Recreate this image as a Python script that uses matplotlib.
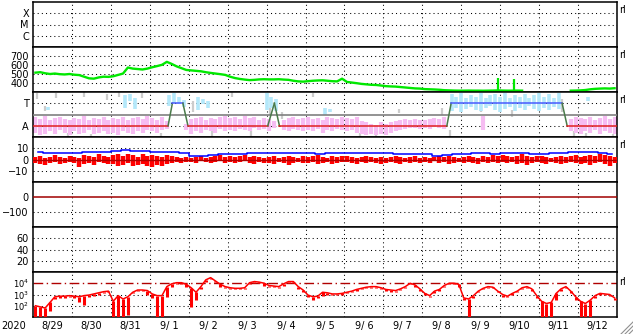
import numpy as np
import matplotlib
matplotlib.use('Agg')
import matplotlib.pyplot as plt
from matplotlib.lines import Line2D

nan = np.nan

# time axis: days since 8/29 00:00, 3-hour bins
date_labels = ['8/29', '8/30', '8/31', '9/ 1', '9/ 2', '9/ 3', '9/ 4', '9/ 5',
               '9/ 6', '9/ 7', '9/ 8', '9/ 9', '9/10', '9/11', '9/12']

# solar wind speed (km/s), 3-hour bins
speed = [515, 520, 508, 500, 505, 498, 495, 500,
         492, 488, 470, 452, 448, 462, 470, 468,
         475, 490, 505, 572, 560, 555, 550, 560,
         575, 588, 602, 635, 612, 585, 565, 545,
         540, 535, 530, 520, 512, 505, 498, 490,
         470, 455, 445, 438, 432, 435, 440, 442,
         440, 440, 442, 438, 435, 425, 418, 415,
         420, 425, 428, 430, 425, 420, 418, 448,
         412, 405, 398, 390, 385, 380, 378, 372,
         365, 362, 360, 355, 350, 345, 340, 338,
         332, 330, 328, 325, 320, 318, 316, 315,
         315, 316, 315, 315, 314, 315, 316, 318,
         316, 315, 315, 316, 315, nan, nan, nan,
         nan, nan, nan, nan, nan, nan, 315, 316,
         318, 322, 330, 335, 338, 340, 338, 342]
spike_days = [11.94, 12.35]
spike_tops = [459, 444]
spike_base = 315

# IMF sector: T / A levels
sector_days = [0, 3.47, 3.58, 3.85, 3.98, 6.03, 6.2, 6.33, 10.63, 10.74, 13.59, 13.72, 15]
sector_vals = ['A', 'A', 'T', 'T', 'A', 'A', 'T', 'A', 'A', 'T', 'T', 'A', 'A']

# IMF angle spread (panel units, A=1, T=3), 3-hour bins
pink_lo = [0.4, 0.2, 0.3, 0.5, 0.3, 0.6, 0.4, 0.2,
           0.5, 0.3, 0.4, 0.6, 0.3, 0.4, 0.5, 0.3,
           0.4, 0.2, 0.5, 0.4, 0.3, 0.5, 0.4, 0.6,
           0.5, 0.4, 0.6, 0.7, nan, nan, nan, 0.6,
           0.3, 0.5, 0.4, 0.6, 0.5, 0.4, 0.7, 0.5,
           0.6, 0.5, 0.7, 0.6, 0.5, 0.8, 0.6, 0.7,
           0.5, 0.8, nan, 0.6, 0.5, 0.7, 0.6, 0.5,
           0.6, 0.5, 0.7, 0.4, 0.6, 0.5, 0.7, 0.6,
           0.5, 0.6, 0.4, 0.3, 0.2, 0.3, 0.2, 0.3,
           0.2, 0.4, 0.5, 0.6, 0.7, 0.8, 0.8, 0.7,
           0.8, 0.7, 0.9, 0.8, 0.7, nan, nan, nan,
           nan, nan, nan, nan, 0.6, nan, nan, nan,
           nan, nan, nan, nan, nan, nan, nan, nan,
           nan, nan, nan, nan, nan, nan, 0.5, 0.4,
           0.3, 0.5, 0.4, 0.6, 0.3, 0.5, 0.4, 0.3]
pink_hi = [1.8, 1.6, 1.9, 1.5, 1.7, 1.8, 1.6, 1.5,
           1.7, 1.6, 1.9, 1.5, 1.7, 1.6, 1.8, 1.5,
           1.7, 1.6, 1.8, 1.5, 1.7, 1.8, 1.6, 1.9,
           1.7, 1.5, 1.8, 1.4, nan, nan, nan, 1.2,
           1.6, 1.7, 1.8, 1.5, 1.7, 1.6, 1.8, 1.9,
           1.7, 1.8, 1.6, 1.9, 1.7, 1.8, 1.5, 1.7,
           1.6, 1.4, nan, 1.5, 1.7, 1.8, 1.6, 1.7,
           1.8, 1.6, 1.7, 1.5, 1.8, 1.7, 1.6, 1.8,
           1.7, 1.6, 1.8, 1.4, 1.3, 1.2, 1.1, 1.3,
           1.2, 1.3, 1.4, 1.5, 1.6, 1.5, 1.6, 1.5,
           1.5, 1.6, 1.7, 1.6, 1.8, nan, nan, nan,
           nan, nan, nan, nan, 1.9, nan, nan, nan,
           nan, nan, nan, nan, nan, nan, nan, nan,
           nan, nan, nan, nan, nan, nan, 1.6, 1.8,
           1.7, 1.6, 1.8, 1.5, 1.7, 1.9, 1.6, 1.8]

cyan_days = [0.375, 2.375, 2.5, 2.625, 3.5, 3.625, 3.75, 3.875, 4.25, 4.375, 4.5,
             6.0, 6.125, 6.25, 7.5, 7.625,
             10.75, 10.875, 11.0, 11.125, 11.25, 11.375, 11.5, 11.625, 11.75, 11.875,
             12.0, 12.125, 12.25, 12.375, 12.5, 12.625, 12.75, 12.875,
             13.0, 13.125, 13.25, 13.375, 13.5, 14.25]
cyan_lo = [2.4, 2.6, 3.2, 2.5, 2.8, 3.0, 2.9, 2.7, 2.4, 2.9, 2.6,
           2.4, 2.6, 2.3, 2.0, 2.2,
           2.3, 2.6, 2.2, 2.5, 2.7, 2.4, 2.3, 2.6, 2.8, 2.4,
           2.2, 2.5, 2.7, 2.3, 2.6, 2.4, 2.8, 2.5,
           2.3, 2.6, 2.4, 2.7, 2.5, 3.2]
cyan_hi = [2.7, 3.7, 3.8, 3.5, 3.7, 3.9, 3.6, 3.3, 3.6, 3.4, 3.2,
           3.9, 3.6, 3.4, 2.6, 2.5,
           3.8, 3.6, 3.9, 3.5, 3.7, 3.6, 3.9, 3.5, 3.7, 3.8,
           3.6, 3.9, 3.5, 3.7, 3.6, 3.8, 3.5, 3.7,
           3.9, 3.6, 3.8, 3.5, 3.9, 3.6]

gray_days = [0.1, 0.3, 0.6, 0.9, 1.3, 1.5, 1.9, 2.2, 2.8, 3.3, 4.1, 4.6, 5.1, 5.6,
             6.1, 6.4, 7.2, 8.4, 8.8, 9.4, 10.5, 10.7, 11.5, 12.3, 13.6, 13.9, 14.2, 14.9]
gray_lo = [3.4, 2.3, 3.5, 0.0, 3.6, 0.0, 3.3, 3.6, 3.5, 0.0, 2.2, 0.0, 3.6, 0.1,
           2.0, 1.6, 3.6, 0.0, 0.0, 2.1, 2.0, 0.0, 2.2, 1.8, 2.2, 0.0, 0.0, 0.0]
gray_hi = [3.9, 2.8, 3.9, 0.4, 4.0, 0.3, 3.8, 4.0, 3.9, 0.4, 3.2, 0.5, 4.0, 0.5,
           2.6, 2.2, 3.9, 0.4, 0.6, 2.5, 2.6, 0.6, 3.0, 2.4, 3.4, 0.5, 0.4, 0.3]

# IMF Bt (nT), 6-hour bins
bt = [6.5, 6.2, 6.0, 5.6, 5.8, 6.5, 7.0, 6.8, 7.2, 8.5, 8.0, 7.5,
      7.0, 6.8, 6.5, 5.5, 3.5, 3.0, 4.0, 5.0, 5.0, 5.2, 5.5, 5.5,
      5.5, 5.8, 5.8, 5.5, 5.5, 5.2, 5.5, 6.0, 6.0, 5.8, 5.5, 5.5,
      5.5, 5.0, 5.2, 5.0, 4.5, 3.5, 4.0, 4.5, 5.0, 5.5, 5.5, 5.2,
      5.5, 5.8, 5.5, 5.0, 4.5, 5.5, 6.0, 6.5, 7.0, 6.5, 5.5, 5.0]

# IMF Bz range (nT), 3-hour bins
bz_hi = [2, 3, 1, 2, 4, 2, 1, 3,   2, 1, 4, 3, 2, 5, 3, 2,
         4, 5, 3, 5, 4, 2, 5, 3,   4, 3, 2, 4, 3, 2, 1, 2,
         1, 2, 3, 1, 2, 3, 4, 2,   3, 2, 3, 4, 2, 3, 2, 1,
         2, 3, 1, 2, 3, 2, 1, 3,   2, 3, 4, 2, 1, 3, 2, 3,
         3, 2, 1, 2, 3, 2, 1, 2,   1, 2, 3, 2, 1, 2, 3, 1,
         2, 1, 2, 3, 2, 3, 2, 1,   2, 3, 2, 1, 3, 2, 4, 3,
         4, 3, 2, 3, 5, 3, 2, 3,   3, 2, 1, 2, 3, 2, 3, 4,
         2, 3, 4, 3, 5, 4, 3, 2]
bz_lo = [-3, -4, -5, -3, -2, -4, -3, -2,   -3, -7, -4, -3, -5, -2, -3, -4,
         -4, -6, -5, -3, -6, -5, -4, -6,   -7, -5, -6, -4, -3, -2, -3, -2,
         -2, -3, -1, -2, -3, -2, -1, -3,   -2, -3, -2, -1, -3, -4, -2, -3,
         -3, -4, -2, -3, -5, -3, -2, -3,   -3, -2, -4, -3, -2, -4, -3, -2,
         -2, -3, -4, -2, -3, -2, -3, -4,   -3, -2, -3, -4, -2, -3, -2, -3,
         -2, -3, -1, -3, -2, -4, -3, -2,   -3, -2, -3, -4, -2, -3, -2, -3,
         -2, -3, -2, -4, -3, -5, -3, -2,   -3, -4, -2, -3, -4, -3, -2, -3,
         -4, -3, -5, -3, -2, -4, -6, -3]

# electron flux, log10, 3-hour bins (upper and lower envelope)
flux_hi = [2.0, 1.9, 1.8, 2.3, 2.8, 2.85, 2.85, 2.9,
           2.85, 2.8, 2.9, 2.95, 3.05, 3.15, 3.25, 3.3,
           2.4, 2.9, 2.6, 2.8, 3.2, 3.4, 3.4, 3.35,
           3.05, 2.9, 2.9, 3.7, 3.95, 4.05, 4.05, 3.9,
           3.6, 3.2, 3.7, 4.3, 4.5, 4.2, 3.9, 3.7,
           3.6, 3.55, 3.55, 3.6, 4.05, 4.15, 4.1, 4.0,
           3.8, 3.75, 3.7, 3.95, 4.15, 4.15, 3.7, 3.4,
           2.95, 2.8, 2.85, 3.2, 3.15, 3.05, 3.05, 3.1,
           3.2, 3.3, 3.45, 3.55, 3.65, 3.7, 3.7, 3.6,
           3.45, 3.4, 3.35, 3.5, 3.7, 4.0, 3.85, 3.5,
           3.1, 2.9, 3.3, 3.45, 3.8, 4.0, 4.0, 3.9,
           2.7, 2.6, 2.9, 3.3, 3.55, 3.7, 3.65, 3.3,
           3.0, 2.85, 3.1, 3.3, 3.6, 3.7, 3.5, 2.9,
           2.4, 2.2, 2.3, 3.1, 3.5, 3.7, 3.3, 2.8,
           2.4, 2.2, 2.5, 2.9, 3.1, 3.05, 3.0, 2.7]
flux_lo = [1.0, 1.0, 1.0, 1.5, 2.6, 2.7, 2.7, 2.8,
           2.7, 2.3, 2.05, 2.8, 2.9, 3.0, 3.1, 3.2,
           1.0, 1.0, 1.0, 1.2, 3.1, 3.3, 3.3, 3.0,
           2.7, 1.0, 1.0, 2.8, 3.7, 3.95, 3.95, 3.7,
           1.9, 2.5, 3.5, 4.1, 4.4, 4.1, 3.7, 3.6,
           3.5, 3.5, 3.5, 3.5, 3.9, 4.05, 4.0, 3.8,
           3.7, 3.65, 3.6, 3.8, 4.05, 4.0, 3.5, 3.2,
           2.8, 2.5, 2.7, 2.9, 3.0, 2.95, 2.95, 3.0,
           3.1, 3.2, 3.35, 3.45, 3.55, 3.6, 3.6, 3.5,
           3.35, 3.2, 3.2, 3.4, 3.6, 3.9, 3.7, 3.3,
           3.0, 2.8, 3.1, 3.35, 3.7, 3.95, 3.95, 3.7,
           2.5, 1.0, 2.7, 3.2, 3.45, 3.6, 3.55, 3.2,
           2.8, 2.75, 2.95, 3.2, 3.5, 3.6, 3.3, 2.7,
           1.0, 1.0, 1.0, 2.5, 3.3, 3.6, 3.1, 2.5,
           1.0, 1.0, 1.0, 2.7, 3.0, 2.95, 2.9, 2.5]

days3 = np.arange(len(speed)) / 8 + 1 / 16
days6 = np.arange(len(bt)) / 4 + 1 / 8

W, H = 633, 334
fig = plt.figure(figsize=(W / 100, H / 100), dpi=100)
edges = [2, 47, 92, 137, 182, 227, 272, 317]
axes = []
for i in range(7):
    ax = fig.add_axes([33 / W, 1 - edges[i + 1] / H, 584 / W, (edges[i + 1] - edges[i]) / H])
    ax.set_xlim(0, 15)
    ax.set_xticks([])
    for s in ax.spines.values():
        s.set_linewidth(1.1)
    ax.tick_params(axis='y', length=0, pad=3, labelsize=7)
    for d in range(1, 15):
        ax.axvline(d, color='k', ls=(0, (1, 3)), lw=0.75, zorder=1)
    axes.append(ax)
ax1, ax2, ax3, ax4, ax5, ax6, ax7 = axes

dots = dict(color='k', ls=(0, (1, 3)), lw=0.75, zorder=1)

# X-ray class
ax1.set_ylim(-7, -3)
ax1.set_yticks([-6, -5, -4], ['C', 'M', 'X'])
for v in [-6, -5, -4]:
    ax1.axhline(v, **dots)

# speed
ax2.set_ylim(300, 800)
ax2.set_yticks([400, 500, 600, 700])
for v in [400, 500, 600, 700]:
    ax2.axhline(v, **dots)
ax2.plot(days3, speed, color='#00e800', lw=1.7, zorder=3)
ax2.vlines(spike_days, spike_base, spike_tops, color='#00e800', lw=1.6, zorder=3)

# sector
lev = {'A': 1, 'T': 3}
ax3.set_ylim(0, 4)
ax3.set_yticks([1, 3], ['A', 'T'])
ax3.axhline(1, **dots)
ax3.axhline(3, **dots)
ax3.vlines(gray_days, gray_lo, gray_hi, color='#cccccc', lw=1.6, zorder=2)
ax3.vlines(days3, pink_lo, pink_hi, color='#f6bcf2', lw=3.0, zorder=2)
ax3.vlines(cyan_days, cyan_lo, cyan_hi, color='#b4e8fa', lw=2.6, zorder=2)
ax3.axhline(2, color='#808080', lw=1.2, zorder=3)
for i in range(len(sector_days) - 1):
    a, b = sector_vals[i], sector_vals[i + 1]
    c = '#e02020' if a == b == 'A' else ('#4a5cff' if a == b == 'T' else '#4a7a4a')
    ax3.plot(sector_days[i:i + 2], [lev[a], lev[b]], color=c, lw=1.1, zorder=4)

# IMF
ax4.set_ylim(-20, 20)
ax4.set_yticks([-10, 0, 10])
ax4.axhline(10, **dots)
ax4.axhline(-10, **dots)
ax4.vlines(days3, bz_lo, bz_hi, color='#ff0000', lw=3.2, zorder=3)
ax4.axhline(0, color='#b00000', lw=1, zorder=4)
ax4.plot(days6, bt, color='#0000ff', lw=1.1, drawstyle='steps-mid', zorder=5)

# Dst
ax5.set_ylim(-200, 100)
ax5.set_yticks([-100, 0])
ax5.axhline(-100, **dots)
ax5.axhline(0, color='#a00000', lw=1.1, zorder=3)

# empty panel
ax6.set_ylim(0, 80)
ax6.set_yticks([20, 40, 60])
for v in [20, 40, 60]:
    ax6.axhline(v, **dots)

# electron flux
ax7.set_ylim(1, 5)
ax7.set_yticks([2, 3, 4], ['$10^{2}$', '$10^{3}$', '$10^{4}$'])
ax7.tick_params(axis='y', labelsize=6)
ax7.axhline(2, **dots)
ax7.axhline(3, **dots)
ax7.axhline(4, color='#b00000', lw=1.0, ls=(0, (7, 2.5, 1, 2.5)), zorder=2)
ax7.vlines(days3, flux_lo, flux_hi, color='#ff0000', lw=2.2, zorder=3)
ax7.plot(days3, flux_hi, color='#ff0000', lw=1.1, zorder=3)
ax7.set_xticks(np.arange(15) + 0.5, date_labels)
ax7.tick_params(axis='x', length=0, pad=3, labelsize=7)

fig.text(14 / W, 1 - 326 / H, '2020', ha='center', va='center', fontsize=7)
for y in [10, 55, 100, 145, 282]:
    fig.text(619 / W, 1 - y / H, 'rl', ha='left', va='center', fontsize=7)

# resize grip in the corner
for k in range(3):
    o = 4 * k
    fig.add_artist(Line2D([(621 + o) / W, 633 / W], [0, (12 - o) / H],
                          transform=fig.transFigure, color='#909090', lw=0.8))

fig.savefig('out.png', dpi=100)
